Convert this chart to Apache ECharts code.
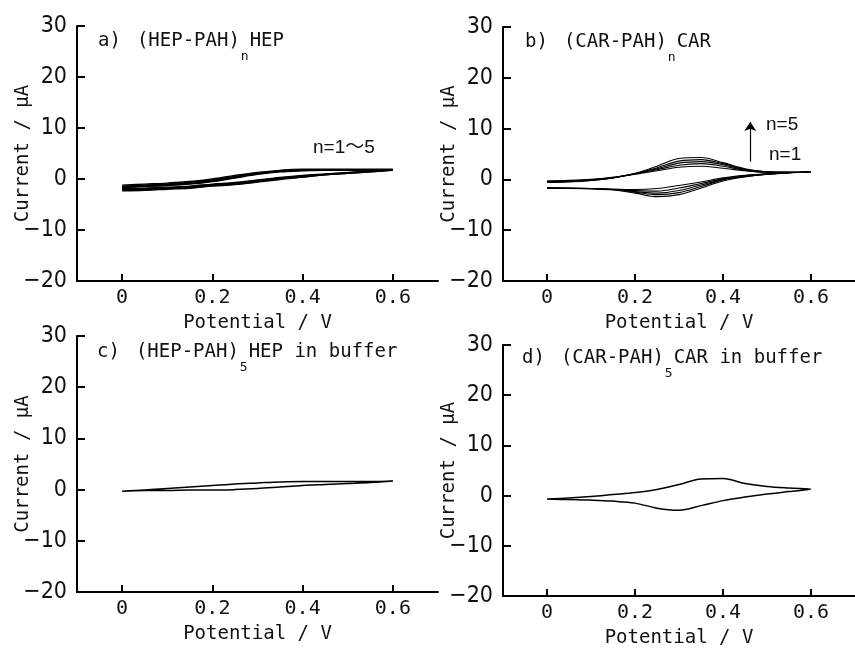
<!DOCTYPE html>
<html><head><meta charset="utf-8">
<script src="https://cdn.jsdelivr.net/npm/echarts@6/dist/echarts.min.js"></script>
<style>html,body{margin:0;padding:0;background:#fff}#c{width:855px;height:649px}</style>
</head><body><div id="c"></div>
<script>
// Potential sweep points (V)
const potFwd = [0,0.05,0.1,0.15,0.2,0.25,0.3,0.35,0.4,0.45,0.5,0.55,0.6];
const potRev = [0.6,0.55,0.5,0.45,0.4,0.35,0.3,0.25,0.2,0.15,0.1,0.05,0];
const xTicks = [0,0.2,0.4,0.6];

// a) (HEP-PAH)nHEP, n=1..5 : forward (anodic) and reverse (cathodic) currents (µA)
const aFwd1 = [-1.2,-1.0,-0.8,-0.5,0.0,0.7,1.3,1.7,1.9,1.9,1.9,1.9,1.9];
const aFwd2 = [-1.4,-1.2,-1.0,-0.7,-0.2,0.5,1.2,1.6,1.8,1.8,1.8,1.8,1.8];
const aFwd3 = [-1.5,-1.3,-1.1,-0.8,-0.3,0.4,1.1,1.5,1.7,1.8,1.8,1.8,1.8];
const aFwd4 = [-1.6,-1.4,-1.2,-0.9,-0.4,0.3,1.0,1.5,1.7,1.7,1.7,1.7,1.8];
const aFwd5 = [-1.7,-1.5,-1.3,-1.0,-0.5,0.2,0.9,1.4,1.6,1.7,1.7,1.7,1.7];
const aRev1 = [1.9,1.6,1.3,1.0,0.7,0.3,-0.2,-0.7,-1.0,-1.4,-1.6,-1.8,-1.9];
const aRev2 = [1.8,1.5,1.2,0.9,0.6,0.2,-0.3,-0.8,-1.1,-1.5,-1.7,-1.9,-2.0];
const aRev3 = [1.8,1.5,1.2,0.9,0.5,0.1,-0.4,-0.9,-1.2,-1.6,-1.8,-2.0,-2.1];
const aRev4 = [1.8,1.4,1.1,0.8,0.4,0.0,-0.5,-1.0,-1.3,-1.7,-1.9,-2.1,-2.2];
const aRev5 = [1.7,1.4,1.1,0.8,0.4,-0.1,-0.6,-1.1,-1.4,-1.8,-2.0,-2.2,-2.3];

// b) (CAR-PAH)nCAR, n=1..5
const bFwd1 = [-0.3,-0.2,0.0,0.4,1.0,1.7,2.4,2.6,2.2,1.7,1.4,1.4,1.5];
const bFwd2 = [-0.4,-0.3,-0.1,0.4,1.1,1.9,2.8,3.1,2.6,1.8,1.4,1.4,1.5];
const bFwd3 = [-0.4,-0.3,-0.1,0.3,1.1,2.1,3.2,3.5,2.9,1.9,1.5,1.4,1.5];
const bFwd4 = [-0.5,-0.4,-0.2,0.3,1.1,2.3,3.6,3.9,3.1,2.0,1.5,1.4,1.5];
const bFwd5 = [-0.6,-0.5,-0.2,0.3,1.2,2.6,4.1,4.3,3.3,2.1,1.5,1.4,1.5];
const bRev1 = [1.5,1.3,1.1,0.8,0.3,-0.5,-1.2,-1.8,-2.0,-1.9,-1.8,-1.7,-1.6];
const bRev2 = [1.5,1.3,1.1,0.7,0.1,-0.8,-1.7,-2.3,-2.2,-2.0,-1.8,-1.7,-1.7];
const bRev3 = [1.5,1.3,1.0,0.6,0.0,-1.1,-2.2,-2.7,-2.4,-2.0,-1.8,-1.8,-1.7];
const bRev4 = [1.5,1.3,1.0,0.6,-0.1,-1.4,-2.6,-3.0,-2.5,-2.0,-1.8,-1.8,-1.8];
const bRev5 = [1.5,1.3,1.0,0.5,-0.3,-1.7,-3.0,-3.4,-2.7,-2.1,-1.9,-1.8,-1.8];

// c) (HEP-PAH)5HEP in buffer
const cFwd = [-0.3,-0.1,0.2,0.5,0.8,1.1,1.3,1.5,1.6,1.6,1.6,1.6,1.7];
const cRev = [1.7,1.4,1.2,1.0,0.8,0.5,0.2,0.0,-0.1,-0.1,-0.2,-0.2,-0.3];

// d) (CAR-PAH)5CAR in buffer
const dFwd = [-0.7,-0.5,-0.2,0.2,0.6,1.2,2.2,3.3,3.4,2.4,1.8,1.5,1.3];
const dRev = [1.3,0.8,0.3,-0.3,-1.0,-2.0,-2.9,-2.5,-1.5,-1.1,-0.9,-0.8,-0.7];

// arrow for panel b (potential, current)
const arrowPot = 0.462, arrowFrom = 3.5, arrowTo = 11.3;

const MONO = '"DejaVu Sans Mono", monospace';
const NARROW = '"Liberation Sans Narrow", "DejaVu Sans Condensed", sans-serif';

function loop(f, r) {
  const d = [];
  for (let i = 0; i < potFwd.length; i++) d.push([potFwd[i], f[i]]);
  for (let i = 1; i < potRev.length; i++) d.push([potRev[i], r[i]]);
  return d;
}

const grids = [
  {left: 77, top: 26, width: 361, height: 255},
  {left: 503, top: 27, width: 361, height: 254},
  {left: 77, top: 336, width: 361, height: 256},
  {left: 503, top: 345, width: 361, height: 254}
];

function xAx(i) {
  return {
    type: 'value', gridIndex: i, min: -0.1, max: 0.7,
    name: 'Potential / V', nameLocation: 'middle', nameGap: 33, nameMoveOverlap: false,
    nameTextStyle: {fontFamily: MONO, fontSize: 19, color: '#111'},
    axisLine: {show: true, onZero: false, lineStyle: {color: '#000', width: 2}},
    axisTick: {show: true, inside: true, length: 7, customValues: xTicks, lineStyle: {color: '#000', width: 2}},
    axisLabel: {customValues: xTicks, margin: 7, fontFamily: MONO, fontSize: 20, color: '#111',
      formatter: v => v === 0 ? '0' : v.toFixed(1)},
    splitLine: {show: false}
  };
}
function yAx(i) {
  return {
    type: 'value', gridIndex: i, min: -20, max: 30, interval: 10,
    name: 'Current / μA', nameLocation: 'middle', nameGap: 44, nameMoveOverlap: false,
    nameTextStyle: {fontFamily: MONO, fontSize: 19, color: '#111'},
    axisLine: {show: true, onZero: false, lineStyle: {color: '#000', width: 2}},
    axisTick: {show: true, inside: true, length: 8, lineStyle: {color: '#000', width: 2}},
    axisLabel: {margin: 10, fontFamily: NARROW, fontSize: 23, color: '#111',
      formatter: v => String(v).replace('-', '\u2212')},
    splitLine: {show: false}
  };
}

const richT = {
  m: {fontFamily: MONO, fontSize: 19, fontWeight: 'normal', color: '#111', lineHeight: 22, verticalAlign: 'top'},
  g: {fontFamily: MONO, fontSize: 19, width: 16, lineHeight: 22, verticalAlign: 'top'},
  s: {fontFamily: MONO, fontSize: 13, fontWeight: 'normal', color: '#111', lineHeight: 12, padding: [18, 1, 0, 1], verticalAlign: 'top'}
};
function ttl(left, top, lab, pre, sub, post) {
  return {left: left, top: top, text: '{m|' + lab + '}{g| }{m|' + pre + '}{s|' + sub + '}{m|' + post + '}',
    textStyle: {rich: richT, fontWeight: 'normal'}, padding: 0};
}

const series = [];
function addLine(gi, data, w, extra) {
  series.push(Object.assign({type: 'line', xAxisIndex: gi, yAxisIndex: gi, data: data,
    showSymbol: false, smooth: 0.35, silent: true,
    lineStyle: {color: '#000', width: w}}, extra || {}));
}
[[aFwd1,aRev1],[aFwd2,aRev2],[aFwd3,aRev3],[aFwd4,aRev4],[aFwd5,aRev5]].forEach(p => addLine(0, loop(p[0], p[1]), 1.4));
[[bFwd1,bRev1],[bFwd2,bRev2],[bFwd3,bRev3],[bFwd4,bRev4],[bFwd5,bRev5]].forEach((p, k) => addLine(1, loop(p[0], p[1]), 1.1,
  k === 4 ? {markLine: {silent: true, symbol: ['none', 'arrow'], symbolSize: 9, label: {show: false},
    lineStyle: {color: '#000', width: 1.2, type: 'solid'}, itemStyle: {color: '#000'},
    data: [[{coord: [arrowPot, arrowFrom]}, {coord: [arrowPot, arrowTo]}]]}} : null));
addLine(2, loop(cFwd, cRev), 1.5);
addLine(3, loop(dFwd, dRev), 1.5);

const chart = echarts.init(document.getElementById('c'), null, {renderer: 'canvas'});
chart.setOption({
  animation: false,
  backgroundColor: '#fff',
  grid: grids,
  xAxis: [0,1,2,3].map(xAx),
  yAxis: [0,1,2,3].map(yAx),
  title: [
    ttl(98, 32, 'a)', '(HEP-PAH)', 'n', 'HEP'),
    ttl(525, 33, 'b)', '(CAR-PAH)', 'n', 'CAR'),
    ttl(97, 343, 'c)', '(HEP-PAH)', '5', 'HEP in buffer'),
    ttl(522, 349, 'd)', '(CAR-PAH)', '5', 'CAR in buffer')
  ],
  graphic: [
    {type: 'text', x: 313, y: 148, silent: true, style: {text: 'n=1～5', font: '19px "Liberation Sans", "Noto Sans CJK JP", sans-serif', fill: '#111', verticalAlign: 'middle'}},
    {type: 'text', x: 766, y: 125, silent: true, style: {text: 'n=5', font: '19px "Liberation Sans", sans-serif', fill: '#111', verticalAlign: 'middle'}},
    {type: 'text', x: 769, y: 155, silent: true, style: {text: 'n=1', font: '19px "Liberation Sans", sans-serif', fill: '#111', verticalAlign: 'middle'}}
  ],
  series: series
});
</script></body></html>
